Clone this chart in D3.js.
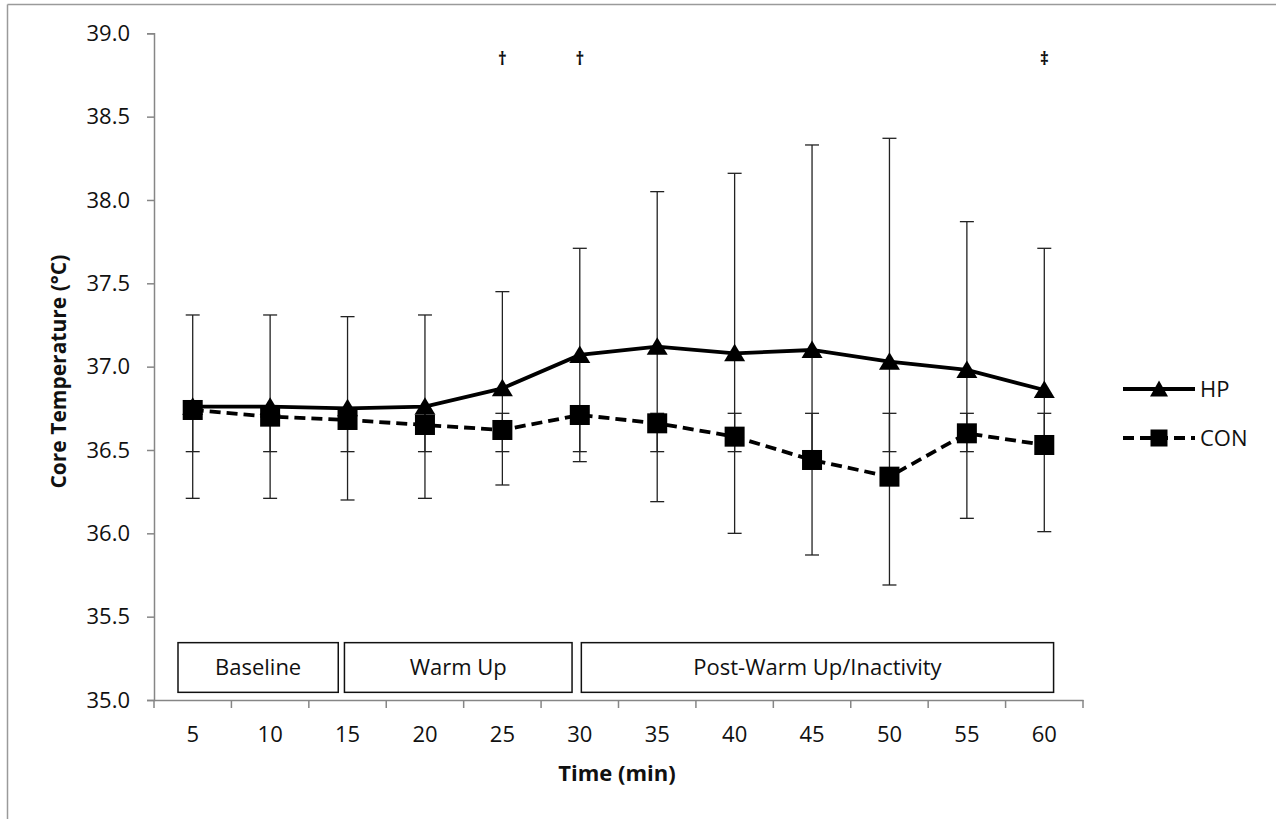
<!DOCTYPE html>
<html>
<head>
<meta charset="utf-8">
<script src="https://cdn.jsdelivr.net/npm/d3@7"></script>
<style>
  html, body { margin: 0; padding: 0; background: #fff; }
  svg { display: block; }
  text { font-family: "Open Sans", Lato, sans-serif; fill: #111; }
</style>
</head>
<body>
<svg id="chart" width="1276" height="819"></svg>
<script>
// ---- data ----
const times = [5, 10, 15, 20, 25, 30, 35, 40, 45, 50, 55, 60];
const hpMean = [36.76, 36.76, 36.75, 36.76, 36.87, 37.07, 37.12, 37.08, 37.10, 37.03, 36.98, 36.86];
const hpSD   = [0.55, 0.55, 0.55, 0.55, 0.58, 0.64, 0.93, 1.08, 1.23, 1.34, 0.89, 0.85];
const conMean = [36.74, 36.70, 36.68, 36.65, 36.62, 36.71, 36.66, 36.58, 36.44, 36.34, 36.60, 36.53];
const extraBarLow  = [36.49, 36.49, 36.49, 36.49, 36.49, 36.49, 36.49, 36.49, 36.49, 36.49, 36.49, 36.49];
const extraBarHigh = [36.72, 36.72, 36.72, 36.72, 36.72, 36.72, 36.72, 36.72, 36.72, 36.72, 36.72, 36.72];
const yTicks = [35.0, 35.5, 36.0, 36.5, 37.0, 37.5, 38.0, 38.5, 39.0];
const phaseNames = ["Baseline", "Warm Up", "Post-Warm Up/Inactivity"];
const phaseStart = [4.05, 14.8, 30.1];   // minutes
const phaseEnd   = [14.4, 29.5, 60.6];   // minutes
const sigTimes = [25, 30, 60];
const sigSymbols = ["\u2020", "\u2020", "\u2021"];
const seriesNames = ["HP", "CON"];

// ---- layout ----
const svg = d3.select("#chart");
const plotLeft = 154, plotRight = 1083, plotTop = 33.3, plotBottom = 700;
const axisColor = "#868686";
const font = "'Open Sans', Lato, sans-serif";

const x = d3.scaleBand().domain(times).range([plotLeft, plotRight]).padding(0);
const bw = x.bandwidth();
const cx = t => x(t) + bw / 2;
const xm = d3.scaleLinear().domain([times[0], times[times.length - 1]])
  .range([cx(times[0]), cx(times[times.length - 1])]);
const y = d3.scaleLinear().domain([35, 39]).range([plotBottom, plotTop]);

// frame
svg.append("line").attr("x1", 7.5).attr("x2", 7.5).attr("y1", 4.5).attr("y2", 819)
  .attr("stroke", "#9a9a9a").attr("stroke-width", 1.5);
svg.append("line").attr("x1", 7.5).attr("x2", 1276).attr("y1", 4.5).attr("y2", 4.5)
  .attr("stroke", "#9a9a9a").attr("stroke-width", 1.5);

// y axis
const yAxis = svg.append("g").attr("transform", `translate(${plotLeft},0)`)
  .call(d3.axisLeft(y).tickValues(yTicks).tickFormat(d3.format(".1f")).tickSize(7).tickPadding(17));
yAxis.select(".domain").attr("stroke", axisColor).attr("stroke-width", 1.5);
yAxis.selectAll(".tick line").attr("stroke", axisColor).attr("stroke-width", 1.5);
yAxis.selectAll(".tick text").attr("font-size", 22).attr("font-family", font).attr("fill", "#111");

// x axis
const xAxis = svg.append("g").attr("transform", `translate(0,${plotBottom})`)
  .call(d3.axisBottom(x).tickSize(0).tickPadding(26).tickSizeOuter(0));
xAxis.select(".domain").attr("stroke", axisColor).attr("stroke-width", 1.5);
xAxis.selectAll(".tick text").attr("font-size", 22).attr("font-family", font).attr("fill", "#111");
const boundaries = times.map(t => x(t)).concat([plotRight]);
xAxis.selectAll(".bnd").data(boundaries).enter().append("line")
  .attr("x1", d => d).attr("x2", d => d).attr("y1", 0).attr("y2", 8)
  .attr("stroke", axisColor).attr("stroke-width", 1.5);

// axis titles
svg.append("text").attr("transform", `translate(66,${(y(39) + y(35)) / 2 + 5}) rotate(-90)`)
  .attr("text-anchor", "middle").attr("font-weight", "bold").attr("font-size", 21)
  .text("Core Temperature (\u00B0C)");
svg.append("text").attr("x", 617).attr("y", 781)
  .attr("text-anchor", "middle").attr("font-weight", "bold").attr("font-size", 22)
  .text("Time (min)");

// phase boxes
const phases = phaseNames.map((n, i) => ({ name: n, s: phaseStart[i], e: phaseEnd[i] }));
const pg = svg.append("g");
pg.selectAll("rect").data(phases).enter().append("rect")
  .attr("x", d => xm(d.s)).attr("width", d => xm(d.e) - xm(d.s))
  .attr("y", y(35.344)).attr("height", y(35.046) - y(35.344))
  .attr("fill", "#fff").attr("stroke", "#111").attr("stroke-width", 1.5);
pg.selectAll("text").data(phases).enter().append("text")
  .attr("x", d => (xm(d.s) + xm(d.e)) / 2).attr("y", (y(35.344) + y(35.046)) / 2 + 8)
  .attr("text-anchor", "middle").attr("font-size", 22).text(d => d.name);

// error bars
const capW = 7;
function errBars(lo, hi, cls) {
  const g = svg.append("g").attr("class", cls);
  const d = times.map((t, i) => ({ t, lo: lo[i], hi: hi[i] }));
  g.selectAll(".v").data(d).enter().append("line")
    .attr("x1", d => cx(d.t)).attr("x2", d => cx(d.t))
    .attr("y1", d => y(d.lo)).attr("y2", d => y(d.hi))
    .attr("stroke", "#222").attr("stroke-width", 1.3);
  ["lo", "hi"].forEach(k => {
    g.selectAll(".c" + k).data(d).enter().append("line")
      .attr("x1", d => cx(d.t) - capW).attr("x2", d => cx(d.t) + capW)
      .attr("y1", d => y(d[k])).attr("y2", d => y(d[k]))
      .attr("stroke", "#222").attr("stroke-width", 1.3);
  });
}
errBars(hpMean.map((m, i) => m - hpSD[i]), hpMean.map((m, i) => m + hpSD[i]), "hpErr");
errBars(extraBarLow, extraBarHigh, "extraErr");

// lines
const line = d3.line().x(d => cx(d.t)).y(d => y(d.v));
const hpData = times.map((t, i) => ({ t, v: hpMean[i] }));
const conData = times.map((t, i) => ({ t, v: conMean[i] }));
svg.append("path").datum(conData).attr("d", line).attr("fill", "none")
  .attr("stroke", "#000").attr("stroke-width", 3.8).attr("stroke-dasharray", "11,6");
svg.append("path").datum(hpData).attr("d", line).attr("fill", "none")
  .attr("stroke", "#000").attr("stroke-width", 3.8);

// markers
const triPath = "M0,-9.5L10.5,8L-10.5,8Z";
const sq = 20;
svg.selectAll(".tri").data(hpData).enter().append("path")
  .attr("d", triPath).attr("transform", d => `translate(${cx(d.t)},${y(d.v)})`).attr("fill", "#000");
svg.selectAll(".sq").data(conData).enter().append("rect")
  .attr("x", d => cx(d.t) - sq / 2).attr("y", d => y(d.v) - sq / 2)
  .attr("width", sq).attr("height", sq).attr("fill", "#000");

// significance symbols
svg.selectAll(".sig").data(sigTimes.map((t, i) => ({ t, s: sigSymbols[i] }))).enter().append("text")
  .attr("x", d => cx(d.t)).attr("y", 65).attr("text-anchor", "middle")
  .attr("font-size", 17).attr("font-weight", "bold").attr("font-family", "DejaVu Sans, sans-serif").text(d => d.s);

// legend
const lg = svg.append("g");
const lx1 = 1123, lx2 = 1195, lmid = 1159, ly = [389, 438];
const legTri = "M0,-8.5L9,7.5L-9,7.5Z";
const lsq = 17;
lg.append("line").attr("x1", lx1).attr("x2", lx2).attr("y1", ly[0]).attr("y2", ly[0])
  .attr("stroke", "#000").attr("stroke-width", 3.8);
lg.append("path").attr("d", legTri).attr("transform", `translate(${lmid},${ly[0]})`).attr("fill", "#000");
lg.append("line").attr("x1", lx1).attr("x2", lx2).attr("y1", ly[1]).attr("y2", ly[1])
  .attr("stroke", "#000").attr("stroke-width", 3.8).attr("stroke-dasharray", "11,6");
lg.append("rect").attr("x", lmid - lsq / 2).attr("y", ly[1] - lsq / 2).attr("width", lsq).attr("height", lsq).attr("fill", "#000");
lg.selectAll(".lt").data(seriesNames).enter().append("text")
  .attr("x", 1200).attr("y", (d, i) => ly[i] + 8).attr("font-size", 22).text(d => d);
</script>
</body>
</html>
